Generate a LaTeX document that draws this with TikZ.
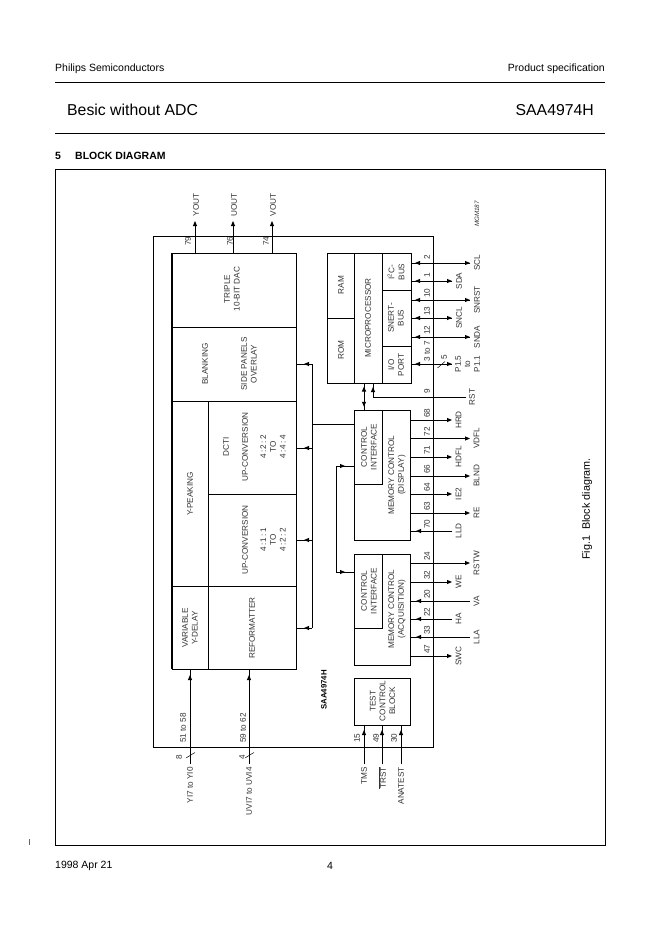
\documentclass[tikz,border=0pt]{standalone}
\usepackage{fontspec}
\setmainfont{Liberation Sans}
\usetikzlibrary{arrows.meta,positioning,decorations.markings}

\begin{document}
\begin{tikzpicture}[
  x=1pt, y=-1pt, >={Triangle[length=5pt,width=4pt]},
  font=\fontsize{8.2}{9.8}\selectfont,
  blk/.style={draw, line width=0.9pt, inner sep=0pt, outer sep=0pt},
  txt/.style={rotate=90, align=center, inner sep=0pt, text=black!80},
  head/.style={inner sep=0pt, font=\fontsize{10.5}{12}\selectfont},
  title/.style={head, font=\fontsize{15.8}{18}\selectfont},
  sect/.style={head, font=\fontsize{10.5}{12}\bfseries\selectfont},
  rule/.style={line width=0.9pt},
  arr/.style={line width=0.9pt, ->},
  midtip/.style={line width=0.9pt, postaction={decorate},
                 decoration={markings, mark=at position #1 with {\arrow{>}}}},
]
  \useasboundingbox (0,0) rectangle (662,936);

  %% Page text
  \node[head, anchor=west] (maker) at (55,69) {Philips Semiconductors};
  \node[head, anchor=east] (kind) at (605,69) {Product specification};
  \node[title, anchor=west] (doctitle) at (67,110) {Besic without ADC};
  \node[title, anchor=east] (part) at (594,110) {SAA4974H};
  \node[sect, anchor=west] (secno) at (55,156) {5};
  \node[sect, anchor=west] (sec) at (75,156) {BLOCK DIAGRAM};
  \node[head, anchor=west] (date) at (55,866) {1998 Apr 21};
  \node[head] (page) at (330,866) {4};
  \coordinate (ruleal) at (55,82);
  \coordinate (ruleaf) at (605,82);
  \coordinate (rulebl) at (55,133);
  \coordinate (rulebf) at (605,133);
  \draw[rule] (ruleal) -- (ruleaf);
  \draw[rule] (rulebl) -- (rulebf);
  \coordinate (ticka) at (29.5,839);
  \coordinate (tickb) at (29.5,845);
  \draw[line width=0.5pt, black!60] (ticka) -- (tickb);

  %% Frame and chip
  \node[blk, minimum width=550, minimum height=676] (frame) at (330,507) {};
  \node[blk, minimum width=280, minimum height=511] (chip) at (293,491.5) {};
  \node[txt, font=\fontsize{6.3}{7}\itshape\selectfont] (mgm) at (477,214) {MGM187};
  \node[txt, font=\fontsize{10.8}{12}\selectfont, text=black] (fig) at (587,509) {Fig.1\ \ Block diagram.};

  %% Video path
  \node[blk, minimum width=124, minimum height=74] (dac) at (234,290) {};
  \node[blk, minimum width=124, minimum height=74] (blank) at (234,364) {};
  \node[blk, minimum width=36, minimum height=185] (peak) at (190,493.5) {};
  \node[blk, minimum width=88, minimum height=93] (dcti) at (252,447.5) {};
  \node[blk, minimum width=88, minimum height=92] (upconv) at (252,540) {};
  \node[blk, minimum width=36, minimum height=83] (vdelay) at (190,627.5) {};
  \node[blk, minimum width=88, minimum height=83] (refmt) at (252,627.5) {};
  \draw[line width=2pt] (dac.north west) -- (vdelay.south west);

  \node[txt] (dactxt) at (232,289) {TRIPLE\\10-BIT DAC};
  \node[txt] (blanktxt) at (205,364) {BLANKING};
  \node[txt] (sidetxt) at (249,364) {SIDE PANELS\\OVERLAY};
  \node[txt] (peaktxt) at (190,494) {Y-PEAKING};
  \node[txt] (dctitxt) at (226,447) {DCTI};
  \node[txt] (up2txt) at (245,447) {UP-CONVERSION};
  \node[txt] (r2txt) at (273,447) {4\,:\,2\,:\,2\\TO\\4\,:\,4\,:\,4};
  \node[txt] (up1txt) at (245,540) {UP-CONVERSION};
  \node[txt] (r1txt) at (273,540) {4\,:\,1\,:\,1\\TO\\4\,:\,2\,:\,2};
  \node[txt] (vdtxt) at (190,628) {VARIABLE\\Y-DELAY};
  \node[txt] (reftxt) at (252,628) {REFORMATTER};

  %% Microprocessor
  \node[blk, minimum width=27, minimum height=65] (ram) at (340.5,285.5) {};
  \node[blk, minimum width=27, minimum height=65] (rom) at (340.5,350.5) {};
  \node[blk, minimum width=28, minimum height=130] (micro) at (368,318) {};
  \node[blk, minimum width=29, minimum height=37] (iic) at (396.5,271.5) {};
  \node[blk, minimum width=29, minimum height=56] (snert) at (396.5,318) {};
  \node[blk, minimum width=29, minimum height=37] (ioport) at (396.5,364.5) {};
  \node[txt] (ramtxt) at (341,285) {RAM};
  \node[txt] (romtxt) at (341,350) {ROM};
  \node[txt] (microtxt) at (368,318) {MICROPROCESSOR};
  \node[txt] (iictxt) at (396,272) {I\textsuperscript{2}C-\\BUS};
  \node[txt] (snerttxt) at (396,318) {SNERT-\\BUS};
  \node[txt] (iotxt) at (396,365) {I/O\\PORT};

  %% Memory control
  \node[blk, minimum width=56, minimum height=130] (memd) at (382,475) {};
  \node[blk, minimum width=28, minimum height=74] (ctld) at (368,447) {};
  \node[blk, minimum width=56, minimum height=111] (mema) at (382,609.5) {};
  \node[blk, minimum width=28, minimum height=74] (ctla) at (368,591) {};
  \node[blk, minimum width=56, minimum height=47] (test) at (382,701.5) {};
  \node[txt] (ctldtxt) at (369,447) {CONTROL\\INTERFACE};
  \node[txt] (memdtxt) at (397,475) {MEMORY CONTROL\\(DISPLAY)};
  \node[txt] (ctlatxt) at (369,591) {CONTROL\\INTERFACE};
  \node[txt] (memtxt) at (397,609) {MEMORY CONTROL\\(ACQUISITION)};
  \node[txt] (testtxt) at (382.5,701) {TEST\\CONTROL\\BLOCK};
  \node[txt, font=\fontsize{7.8}{9.4}\bfseries\selectfont, text=black] (chipname) at (324,690) {SAA4974H};

  %% Buses between the blocks
  \coordinate (busa) at (312,364);
  \coordinate (busb) at (312,448);
  \coordinate (busc) at (312,540);
  \coordinate (busd) at (312,628);
  \coordinate (buse) at (312,424);
  \coordinate (busf) at (336,466);
  \coordinate (busg) at (336,572);
  \draw[rule] (busa) -- (busd);
  \draw[midtip=.5] (busa) -- (blank.east |- busa);
  \draw[midtip=.5] (busb) -- (dcti.east |- busb);
  \draw[midtip=.5] (busc) -- (upconv.east |- busc);
  \draw[midtip=.5] (busd) -- (refmt.east |- busd);
  \draw[rule] (buse) -- (ctld.west |- buse);
  \draw[rule] (busf) -- (busg);
  \draw[midtip=.5] (busf) -- (ctld.west |- busf);
  \draw[midtip=.5] (busg) -- (ctla.west |- busg);

  %% Microprocessor to control interface, and reset
  \coordinate (mclink) at (364,397);
  \draw[midtip=.75] (mclink) -- (mclink |- micro.south);
  \draw[midtip=.75] (mclink) -- (mclink |- ctld.north);
  \coordinate (rstend) at (466,397);
  \coordinate (rstbend) at (373,397);
  \draw[midtip=-4pt] (rstend) -- (rstbend) -- (rstbend |- micro.south);
  \node[txt] (labRST) at (472,397) {RST};
  \node[txt] (num9) at (427,391) {9};

  %% Output pins
  \foreach \pname/\px/\pnum/\nx in {YOUT/195/79/188, UOUT/233/76/230, VOUT/272/74/266} {
    \coordinate (\pname) at (\px,221);
    \draw[arr] (\pname |- dac.north) -- (\pname);
    \node[txt] (lab\pname) at (\px+1,205) {\pname};
    \node[txt] (num\pname) at (\nx,241) {\pnum};
  }

  %% Right hand pins, out of the chip
  \foreach \pname/\py/\pend/\pnum/\hostblk in {
      HRD/420/452/68/memd, VDFL/438.5/470/72/memd, HDFL/457/452/71/memd,
      BLND/476/470/66/memd, IE2/494/452/64/memd, RE/513/470/63/memd,
      RSTW/563/470/24/mema, WE/582/452/32/mema, SWC/656/452/47/mema} {
    \coordinate (\pname) at (\pend,\py);
    \draw[arr] (\hostblk.east |- \pname) -- (\pname);
    \node[txt] (lab\pname) at (\pend+6.5,\py) {\pname};
    \node[txt] (num\pname) at (427,\py-7) {\pnum};
  }
  %% Right hand pins, into the chip
  \foreach \pname/\py/\pend/\pnum/\hostblk in {
      LLD/531/452/70/memd, VA/601/470/20/mema, HA/619/452/22/mema, LLA/637/470/33/mema} {
    \coordinate (\pname) at (\pend,\py);
    \draw[midtip=-6pt] (\pname) -- (\hostblk.east |- \pname);
    \node[txt] (lab\pname) at (\pend+6.5,\py) {\pname};
    \node[txt] (num\pname) at (427,\py-7) {\pnum};
  }
  %% Microprocessor pins, both ways
  \foreach \pname/\py/\pend/\pnum/\numy/\hostblk in {
      SCL/263/470/2/257/iic, SDA/281/452/1/275/iic, SNRST/300/470/10/293/snert,
      SNCL/318/452/13/311/snert, SNDA/337/470/12/330/snert, P1/364/452/3 to 7/351.5/ioport} {
    \coordinate (\pname) at (\pend,\py);
    \draw[arr] (\hostblk.east |- \pname) -- (\pname);
    \draw[midtip=-4pt] (\pname) -- (\hostblk.east |- \pname);
    \node[txt] (num\pname) at (427,\numy) {\pnum};
  }
  \foreach \pname/\py/\pend in {SCL/263/470, SDA/281/452, SNRST/300/470, SNCL/318/452, SNDA/337/470}
    \node[txt] (lab\pname) at (\pend+7,\py) {\pname};
  \node[txt] (labPa) at (458,364) {P1.5};
  \node[txt] (labPb) at (467.5,364) {to};
  \node[txt] (labPc) at (477,364) {P1.1};
  \coordinate (slpa) at (437.5,368);
  \coordinate (slpb) at (445,361.5);
  \draw[line width=0.5pt] (slpa) -- (slpb);
  \node[txt] (numPw) at (444,357) {5};

  %% Test pins
  \foreach \pname/\px/\pnum/\nx/\ptext in {
      TMS/364/15/357/TMS, TRST/382/49/376/$\overline{\mbox{TRST}}$, ANATEST/401/30/394/ANATEST} {
    \coordinate (\pname) at (\px,764);
    \draw[midtip=-5pt] (\pname) -- (\pname |- test.south);
    \node[txt, anchor=east] (lab\pname) at (\px,767) {\ptext};
    \node[txt] (num\pname) at (\nx,738) {\pnum};
  }

  %% Video inputs
  \foreach \pname/\px/\pnum/\nx/\ptext/\wid/\wx/\hostblk in {
      YI/190/51 to 58/183/YI7 to YI0/8/179/vdelay, UVI/249/59 to 62/243/UVI7 to UVI4/4/242/refmt} {
    \coordinate (\pname) at (\px,764);
    \draw[midtip=-6pt] (\pname) -- (\pname |- \hostblk.south);
    \coordinate (\pname sla) at (\px-4,758);
    \coordinate (\pname slb) at (\px+5,752.5);
    \draw[line width=0.5pt] (\pname sla) -- (\pname slb);
    \node[txt, anchor=east] (lab\pname) at (\px,767) {\ptext};
    \node[txt] (num\pname) at (\nx,728) {\pnum};
    \node[txt] (wid\pname) at (\wx,757) {\wid};
  }
\end{tikzpicture}
\end{document}
